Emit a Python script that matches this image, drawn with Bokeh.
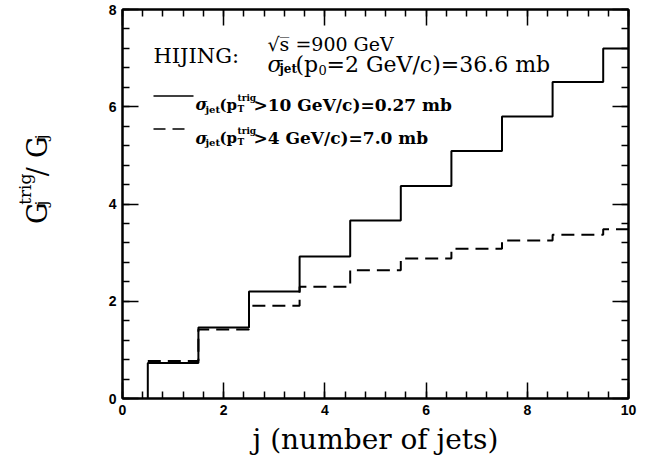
import numpy as np
from math import pi
from bokeh.plotting import figure
from bokeh.layouts import row
from bokeh.models import Range1d, Label, LinearAxis, SingleIntervalTicker, CustomJSTickFormatter
from bokeh.embed import file_html
from bokeh.resources import INLINE

# ---------------- data ----------------
jet_multiplicity = [1, 2, 3, 4, 5, 6, 7, 8, 9, 10]
bin_edges = [0.5, 1.5, 2.5, 3.5, 4.5, 5.5, 6.5, 7.5, 8.5, 9.5, 10.0]
ratio_pt10 = [0.73, 1.46, 2.20, 2.92, 3.66, 4.37, 5.09, 5.80, 6.51, 7.20]
ratio_pt4 = [0.77, 1.42, 1.91, 2.30, 2.64, 2.88, 3.08, 3.25, 3.37, 3.48]
x_tick_values = [0, 2, 4, 6, 8, 10]
y_tick_values = [0, 2, 4, 6, 8]

# ---------------- layout ----------------
W, H = 657, 464
YLAB_W = 62                           # strip holding the y-axis title
FL, FR, FT, FB = 122, 628, 11, 398   # frame edges in page pixels
X0, X1, Y0, Y1 = 0, 10, 0, 8

def dx(px):
    return X0 + (px - FL) * (X1 - X0) / (FR - FL)

def dy(py):
    return Y0 + (FB - py) * (Y1 - Y0) / (FB - FT)

p = figure(width=W - YLAB_W, height=H, output_backend="svg", toolbar_location=None,
           x_range=Range1d(X0, X1), y_range=Range1d(Y0, Y1),
           min_border_left=FL - YLAB_W, min_border_right=W - FR,
           min_border_top=FT - 2, min_border_bottom=H - FB)
p.grid.visible = False
p.outline_line_color = "black"
p.outline_line_width = 2
p.background_fill_color = "white"
p.border_fill_color = "white"

xt = SingleIntervalTicker(interval=2, num_minor_ticks=5)
yt = SingleIntervalTicker(interval=2, num_minor_ticks=5)

def style_axis(ax, show_labels):
    ax.axis_line_width = 2
    ax.axis_line_color = "black"
    ax.major_tick_in = 16
    ax.major_tick_out = 0
    ax.minor_tick_in = 7
    ax.minor_tick_out = 0
    ax.major_tick_line_width = 1.5
    ax.minor_tick_line_width = 1.5
    ax.major_tick_line_color = "black"
    ax.minor_tick_line_color = "black"
    ax.major_label_text_font = "Liberation Sans"
    ax.major_label_text_font_style = "bold"
    ax.major_label_text_font_size = "14px"
    ax.major_label_text_color = "black"
    if show_labels:
        ax.major_label_standoff = 6
    else:
        ax.formatter = CustomJSTickFormatter(code="return ''")
        ax.major_label_standoff = 0

bottom = p.below[0]
left = p.left[0]
bottom.ticker = xt
left.ticker = yt
style_axis(bottom, True)
style_axis(left, True)
top = LinearAxis(ticker=xt)
right = LinearAxis(ticker=yt)
style_axis(top, False)
style_axis(right, False)
p.add_layout(top, "above")
p.add_layout(right, "right")

bottom.axis_label = "j (number of jets)"
bottom.axis_label_text_font = "DejaVu Serif"
bottom.axis_label_text_font_style = "normal"
bottom.axis_label_text_font_size = "28px"
bottom.axis_label_text_color = "black"
bottom.axis_label_standoff = 5

# ---------------- histograms ----------------
xs = list(np.repeat(bin_edges, 2)[1:-1])
ys10 = list(np.repeat(ratio_pt10, 2))
ys4 = list(np.repeat(ratio_pt4, 2))
p.line([bin_edges[0]] + xs, [0] + ys10, line_color="black", line_width=2)
p.line(xs, ys4, line_color="black", line_width=2, line_dash="13 7")

# ---------------- legend samples ----------------
p.line([dx(153), dx(193)], [dy(97), dy(97)], line_color="black", line_width=1.5)
p.line([dx(153), dx(184)], [dy(130), dy(130)], line_color="black", line_width=1.5,
       line_dash="12 7")

# ---------------- texts ----------------
SERIF = "DejaVu Serif"

def txt(s, px, py, size, style="normal", angle=0.0, align="left"):
    p.add_layout(Label(x=dx(px), y=dy(py), text=s, text_font=SERIF,
                       text_font_size=f"{size}px", text_font_style=style,
                       text_color="black", text_align=align,
                       text_baseline="alphabetic", angle=angle))

txt("HIJING:", 153, 57, 21)
txt("\u221as\u0305 =900 GeV", 267, 45, 19)
txt("\u03c3", 267, 66, 22, "italic")
txt("jet", 279, 70, 12, "bold")
txt("(p", 295, 66, 22)
txt("0", 318, 71, 13)
txt("=2 GeV/c)=36.6 mb", 326, 66, 22)

for base, rest in ((106, ">10 GeV/c)=0.27 mb"), (139, ">4 GeV/c)=7.0 mb")):
    txt("\u03c3", 195, base, 16, "bold italic")
    txt("jet", 205, base + 4, 10, "bold")
    txt("(p", 219, base, 15, "bold")
    txt("T", 237, base + 4, 9, "bold")
    txt("trig", 237, base - 7, 9, "bold")
    txt(rest, 253, base, 17, "bold")

# ---------------- y-axis title strip ----------------
ylab = figure(width=YLAB_W, height=H, output_backend="svg", toolbar_location=None,
              x_range=Range1d(0, YLAB_W), y_range=Range1d(H, 0),
              x_axis_type=None, y_axis_type=None,
              min_border_left=0, min_border_right=0, min_border_top=0, min_border_bottom=0)
ylab.grid.visible = False
ylab.outline_line_color = None
ylab.background_fill_color = "white"
ylab.border_fill_color = "white"

def ytxt(s, px, py, size):
    ylab.add_layout(Label(x=px, y=py, text=s, text_font=SERIF,
                          text_font_size=f"{size}px", text_color="black",
                          text_align="left", text_baseline="alphabetic",
                          angle=pi / 2))

ytxt("G", 37, 256, 27)
ytxt("j", 40, 234, 17)
ytxt("trig", 24, 233, 17)
ytxt("/", 37, 199, 27)
ytxt("G", 37, 177, 27)
ytxt("j", 40, 155, 17)

layout = row(ylab, p, spacing=0)
open("out.html", "w").write(file_html(layout, INLINE))
